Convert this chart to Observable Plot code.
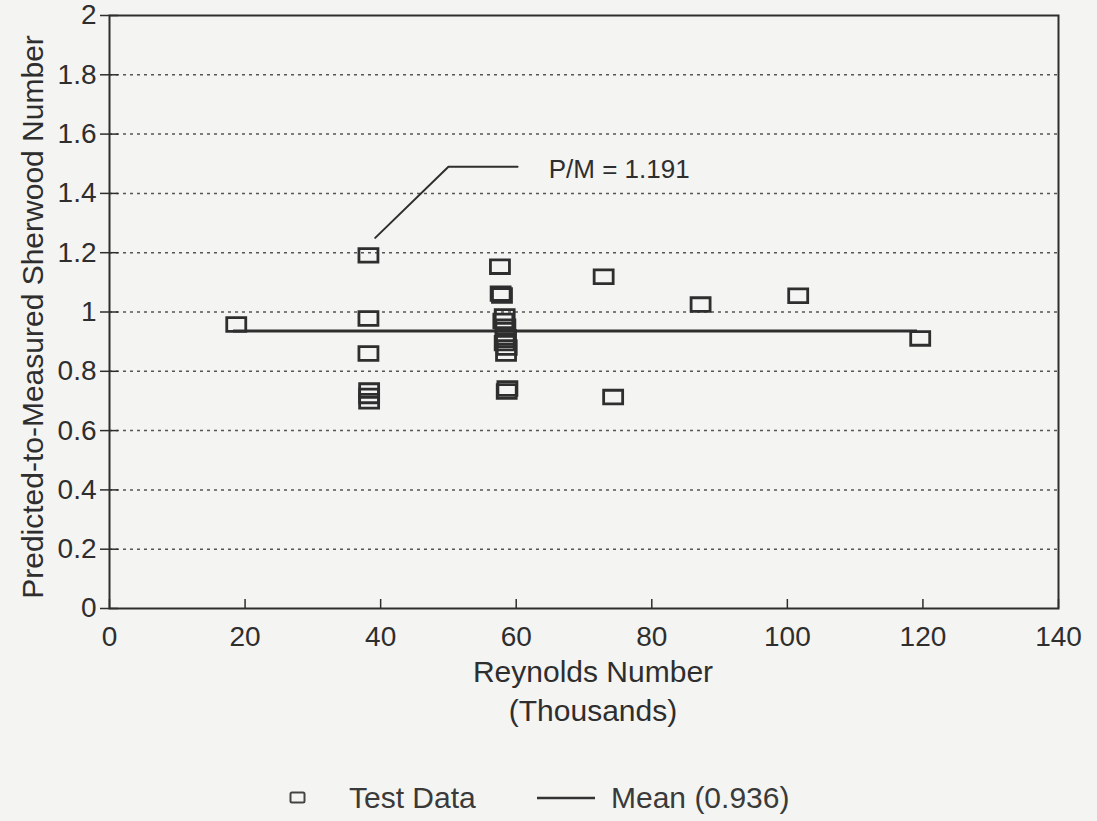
<!DOCTYPE html>
<html>
<head>
<meta charset="utf-8">
<script src="https://cdn.jsdelivr.net/npm/d3@7"></script>
<script src="https://cdn.jsdelivr.net/npm/@observablehq/plot@0.6"></script>
<style>
  html, body { margin: 0; padding: 0; background: #f4f4f2; }
  #wrap { position: relative; width: 1097px; height: 821px; font-family: "Liberation Sans", Arial, sans-serif; color: #333; }
  #legend { position: absolute; left: 0; top: 780px; width: 1097px; height: 36px; font-size: 30px; color: #3a3a3a; }
  #legend .item { position: absolute; top: 0; display: flex; align-items: center; height: 36px; }
</style>
</head>
<body>
<div id="wrap">
  <div id="chart"></div>
  <div id="legend">
    <div class="item" style="left:289px;">
      <svg width="18" height="14" style="margin-right:42px"><rect x="1.5" y="1.5" width="14" height="10" rx="1.5" fill="none" stroke="#444" stroke-width="2"/></svg>
      <span>Test Data</span>
    </div>
    <div class="item" style="left:537px;">
      <svg width="60" height="10" style="margin-right:14px"><line x1="0" y1="5" x2="58" y2="5" stroke="#333" stroke-width="2.5"/></svg>
      <span>Mean (0.936)</span>
    </div>
  </div>
</div>
<script>
// Test data: Reynolds number (thousands) and predicted-to-measured Sherwood number
const reynolds = [18.7, 38.2, 38.2, 38.2, 38.3, 38.3, 38.3,
                  57.6, 57.7, 57.9, 58.3, 58.1, 58.4, 58.5, 58.3, 58.6, 58.5, 58.7, 58.6,
                  72.9, 74.3, 87.2, 101.6, 119.6];
const ratio    = [0.958, 1.191, 0.978, 0.860, 0.735, 0.717, 0.699,
                  1.153, 1.062, 1.056, 0.985, 0.970, 0.950, 0.915, 0.895, 0.880, 0.860, 0.742, 0.732,
                  1.119, 0.713, 1.025, 1.055, 0.911];

// Mean line
const meanValue = 0.936;
const meanStart = 18.3;
const meanEnd = 119.2;

// Annotation
const annotationText = "P/M = 1.191";
const leaderX = [39.2, 50.0, 60.2];
const leaderY = [1.25, 1.49, 1.49];
const annotationX = 64.8;
const annotationY = 1.48;

// Axes
const xTicks = [0, 20, 40, 60, 80, 100, 120, 140];
const yTicks = [0, 0.2, 0.4, 0.6, 0.8, 1, 1.2, 1.4, 1.6, 1.8, 2];
const xLabel = "Reynolds Number\n(Thousands)";
const yLabel = "Predicted-to-Measured Sherwood Number";

const points = reynolds.map((x, i) => ({x, y: ratio[i]}));
const leader = leaderX.map((x, i) => ({x, y: leaderY[i]}));

const boxSymbol = {
  draw(ctx, size) {
    const r = Math.sqrt(size / Math.PI);
    const w = r, h = r * 0.72;
    ctx.moveTo(-w, -h);
    ctx.lineTo(w, -h);
    ctx.lineTo(w, h);
    ctx.lineTo(-w, h);
    ctx.closePath();
  }
};

const ink = "#2e2e2e";
const fmt = d => String(+d.toFixed(1));

const chart = Plot.plot({
  width: 1097,
  height: 770,
  marginLeft: 109,
  marginRight: 39,
  marginTop: 15,
  marginBottom: 162,
  style: {background: "transparent", fontFamily: "'Liberation Sans', Arial, sans-serif", color: ink},
  x: {domain: [0, 140], ticks: xTicks},
  y: {domain: [0, 2], ticks: yTicks},
  marks: [
    Plot.gridY(yTicks.filter(d => d > 0 && d < 2), {stroke: "#555", strokeOpacity: 1, strokeWidth: 1.5, strokeDasharray: "3,4"}),
    Plot.frame({stroke: ink, strokeWidth: 2}),
    // y ticks crossing the axis
    Plot.axisY(yTicks, {anchor: "left", tickSize: 9, tickPadding: 4, tickFormat: fmt, fontSize: 28, label: null, stroke: ink, strokeWidth: 1.5, fill: ink}),
    Plot.axisY(yTicks, {anchor: "left", tickSize: 9, text: null, dx: 9, label: null, stroke: ink, strokeWidth: 1.5}),
    // x ticks pointing inward, labels below
    Plot.axisX(xTicks, {anchor: "bottom", tickSize: 9, text: null, dy: -9, label: null, stroke: ink, strokeWidth: 1.5}),
    Plot.axisX(xTicks, {anchor: "bottom", tickSize: 0, tickPadding: 18, fontSize: 28, label: null, fill: ink}),
    // axis titles
    Plot.text([yLabel], {frameAnchor: "left", text: d => d, rotate: -90, dx: -76, dy: 5, fontSize: 30, fill: ink, textAnchor: "middle"}),
    Plot.text([xLabel], {frameAnchor: "bottom", text: d => d, dx: 9, dy: 46, lineAnchor: "top", lineHeight: 1.3, fontSize: 30, fill: ink}),
    // mean line
    Plot.ruleY([meanValue], {x1: meanStart, x2: meanEnd, stroke: ink, strokeWidth: 3}),
    // data
    Plot.dot(points, {x: "x", y: "y", symbol: boxSymbol, r: 9.5, stroke: ink, strokeWidth: 2.8, fill: "none"}),
    // annotation
    Plot.line(leader, {x: "x", y: "y", stroke: ink, strokeWidth: 2}),
    Plot.text([annotationText], {x: annotationX, y: annotationY, text: d => d, textAnchor: "start", fontSize: 26, fill: ink})
  ]
});
document.getElementById("chart").appendChild(chart);
</script>
</body>
</html>
